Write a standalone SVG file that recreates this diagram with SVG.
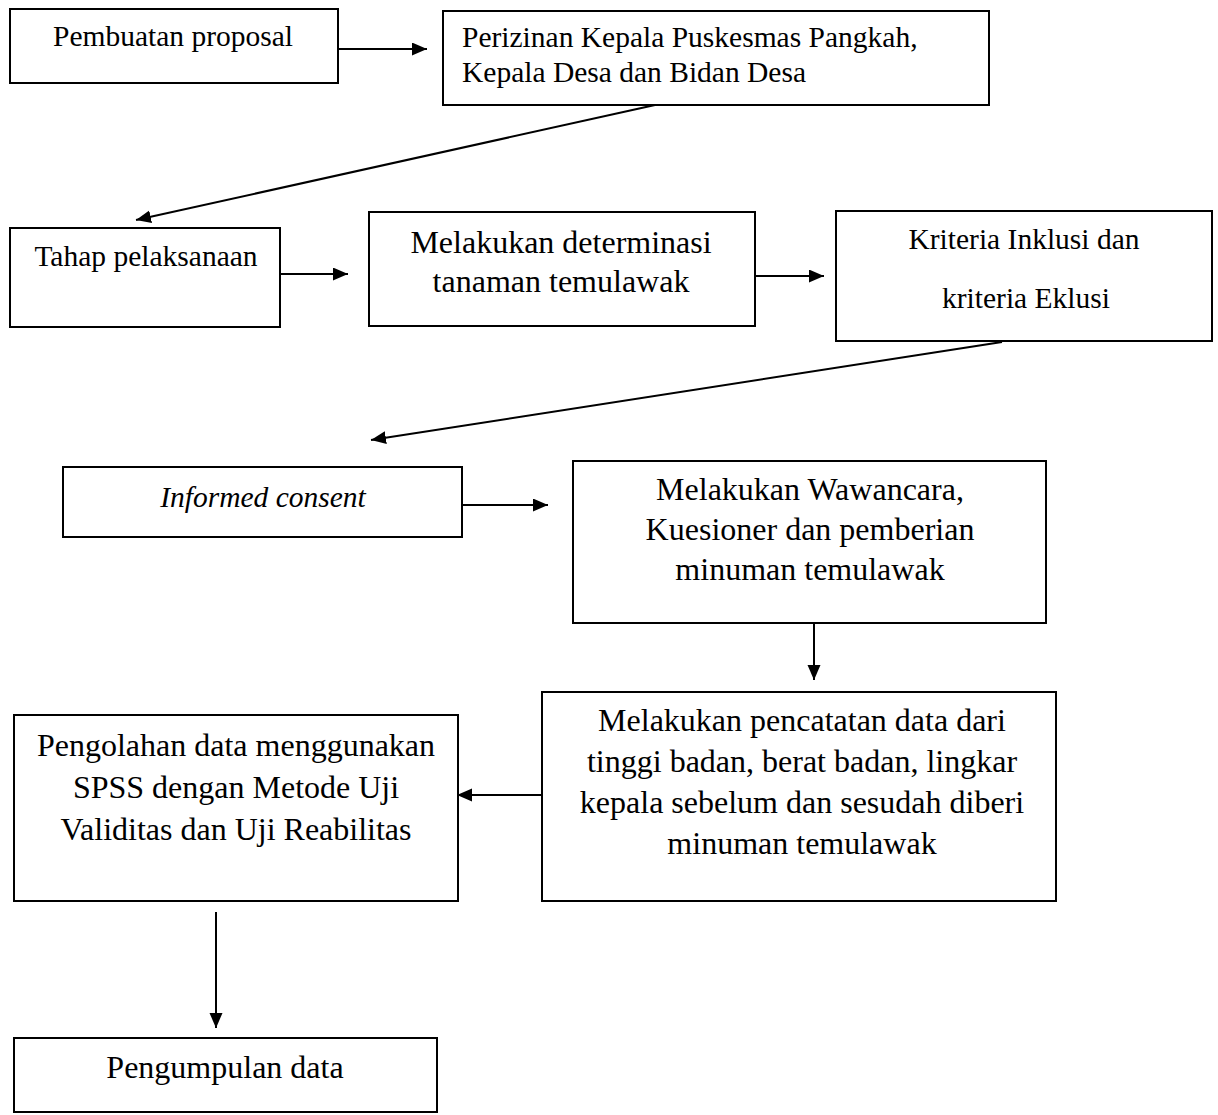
<svg xmlns="http://www.w3.org/2000/svg" width="1218" height="1115" viewBox="0 0 1218 1115">
<defs>
<marker id="ah" markerUnits="userSpaceOnUse" markerWidth="16" markerHeight="14" refX="15" refY="6.5" orient="auto">
<path d="M0,0 L15,6.5 L0,13 z" fill="#000"/>
</marker>
</defs>
<style>
.box{fill:#fff;stroke:#000;stroke-width:2}
.t{font-family:"Liberation Serif","Times New Roman",serif;fill:#000}
.s{font-size:29.5px}
.l{font-size:32px}
.c{text-anchor:middle}
.i{font-style:italic}
.con{stroke:#000;stroke-width:2;fill:none;marker-end:url(#ah)}
</style>
<rect width="1218" height="1115" fill="#fff"/>
<g id="connectors">
<line class="con" x1="338" y1="49" x2="427" y2="49"/>
<line class="con" x1="655" y1="105" x2="136" y2="220"/>
<line class="con" x1="280" y1="274" x2="348" y2="274"/>
<line class="con" x1="755" y1="276" x2="824" y2="276"/>
<line class="con" x1="1002" y1="342" x2="371" y2="440"/>
<line class="con" x1="462" y1="505" x2="548" y2="505"/>
<line class="con" x1="814" y1="623" x2="814" y2="680"/>
<line class="con" x1="541" y1="795" x2="457" y2="795"/>
<line class="con" x1="216" y1="912" x2="216" y2="1028"/>
</g>
<g id="n1"><rect class="box" x="10" y="9" width="328" height="74"/><text class="t s c" x="173" y="46">Pembuatan proposal</text></g>
<g id="n2"><rect class="box" x="443" y="11" width="546" height="94"/><text class="t s" x="462" y="47">Perizinan Kepala Puskesmas Pangkah,</text><text class="t s" x="462" y="82">Kepala Desa dan Bidan Desa</text></g>
<g id="n3"><rect class="box" x="10" y="228" width="270" height="99"/><text class="t s c" x="146" y="266">Tahap pelaksanaan</text></g>
<g id="n4"><rect class="box" x="369" y="212" width="386" height="114"/><text class="t l c" x="561" y="253">Melakukan determinasi</text><text class="t l c" x="561" y="292">tanaman temulawak</text></g>
<g id="n5"><rect class="box" x="836" y="211" width="376" height="130"/><text class="t s c" x="1024" y="249">Kriteria Inklusi dan</text><text class="t s c" x="1026" y="308">kriteria Eklusi</text></g>
<g id="n6"><rect class="box" x="63" y="467" width="399" height="70"/><text class="t s c i" x="263" y="507">Informed consent</text></g>
<g id="n7"><rect class="box" x="573" y="461" width="473" height="162"/><text class="t l c" x="810" y="500">Melakukan Wawancara,</text><text class="t l c" x="810" y="540">Kuesioner dan pemberian</text><text class="t l c" x="810" y="580">minuman temulawak</text></g>
<g id="n8"><rect class="box" x="542" y="692" width="514" height="209"/><text class="t l c" x="802" y="731">Melakukan pencatatan data dari</text><text class="t l c" x="802" y="772">tinggi badan, berat badan, lingkar</text><text class="t l c" x="802" y="813">kepala sebelum dan sesudah diberi</text><text class="t l c" x="802" y="854">minuman temulawak</text></g>
<g id="n9"><rect class="box" x="14" y="715" width="444" height="186"/><text class="t l c" x="236" y="756">Pengolahan data menggunakan</text><text class="t l c" x="236" y="798">SPSS dengan Metode Uji</text><text class="t l c" x="236" y="840">Validitas dan Uji Reabilitas</text></g>
<g id="n10"><rect class="box" x="14" y="1038" width="423" height="74"/><text class="t l c" x="225" y="1078">Pengumpulan data</text></g>
</svg>
